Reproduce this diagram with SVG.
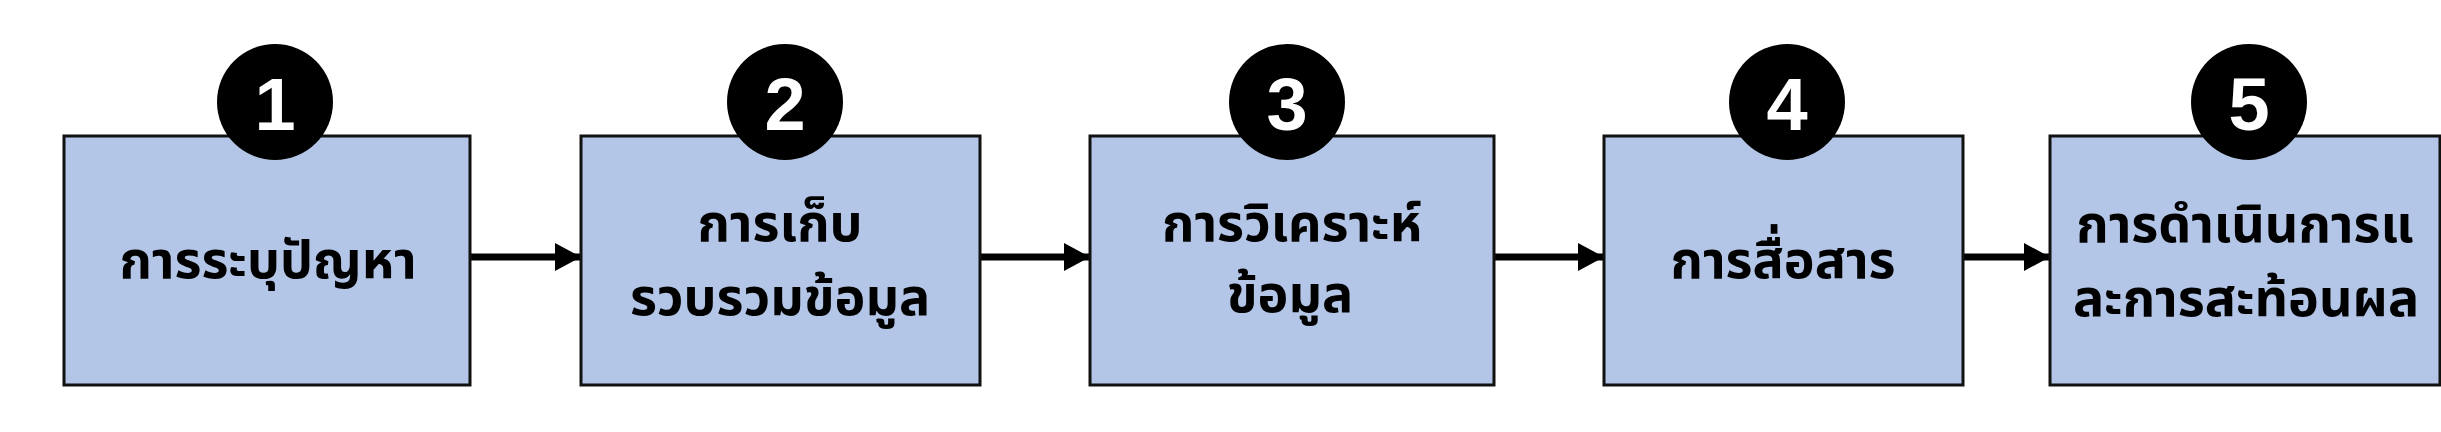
<svg xmlns="http://www.w3.org/2000/svg" width="2441" height="432" viewBox="0 0 2441 432">
  <defs>
    <style>
      .box { fill: #b4c6e7; stroke: #111; stroke-width: 3; }
      .badge { fill: #000; }
      .num { fill: #fff; font-family: "Liberation Sans", Arial, sans-serif; font-weight: bold; font-size: 74px; text-anchor: middle; }
      .lbl { fill: #000; font-family: "Noto Sans Thai", "Noto Sans Thai UI", Tahoma, "Leelawadee UI", "Noto Sans", sans-serif; font-weight: bold; font-size: 52px; text-anchor: middle; }
      .conn { stroke: #000; stroke-width: 7; fill: none; }
    </style>
    <marker id="arrow" markerUnits="userSpaceOnUse" markerWidth="26" markerHeight="28" refX="26" refY="14" orient="auto">
      <path d="M0,0 L26,14 L0,28 Z" fill="#000"/>
    </marker>
  </defs>
  <rect width="2441" height="432" fill="#fff"/>

  <g id="connectors">
    <line class="conn" x1="470" y1="257" x2="581" y2="257" marker-end="url(#arrow)"/>
    <line class="conn" x1="980" y1="257" x2="1090" y2="257" marker-end="url(#arrow)"/>
    <line class="conn" x1="1494" y1="257" x2="1604" y2="257" marker-end="url(#arrow)"/>
    <line class="conn" x1="1963" y1="257" x2="2050" y2="257" marker-end="url(#arrow)"/>
  </g>

  <g id="node1">
    <rect class="box" x="64" y="136" width="406" height="249"/>
    <circle class="badge" cx="275" cy="102" r="58"/>
    <text class="num" x="275" y="130">1</text>
    <text class="lbl" x="268" y="278">การระบุปัญหา</text>
  </g>

  <g id="node2">
    <rect class="box" x="581" y="136" width="399" height="249"/>
    <circle class="badge" cx="785" cy="102" r="58"/>
    <text class="num" x="785" y="130">2</text>
    <text class="lbl" x="780" y="241">การเก็บ</text>
    <text class="lbl" x="780" y="315">รวบรวมข้อมูล</text>
  </g>

  <g id="node3">
    <rect class="box" x="1090" y="136" width="404" height="249"/>
    <circle class="badge" cx="1287" cy="102" r="58"/>
    <text class="num" x="1287" y="130">3</text>
    <text class="lbl" x="1292" y="241">การวิเคราะห์</text>
    <text class="lbl" x="1290" y="312">ข้อมูล</text>
  </g>

  <g id="node4">
    <rect class="box" x="1604" y="136" width="359" height="249"/>
    <circle class="badge" cx="1787" cy="102" r="58"/>
    <text class="num" x="1787" y="130">4</text>
    <text class="lbl" x="1783" y="278">การสื่อสาร</text>
  </g>

  <g id="node5">
    <rect class="box" x="2050" y="136" width="390" height="249"/>
    <circle class="badge" cx="2249" cy="102" r="58"/>
    <text class="num" x="2249" y="130">5</text>
    <text class="lbl" x="2245" y="242">การดำเนินการแ</text>
    <text class="lbl" x="2246" y="316">ละการสะท้อนผล</text>
  </g>
</svg>
